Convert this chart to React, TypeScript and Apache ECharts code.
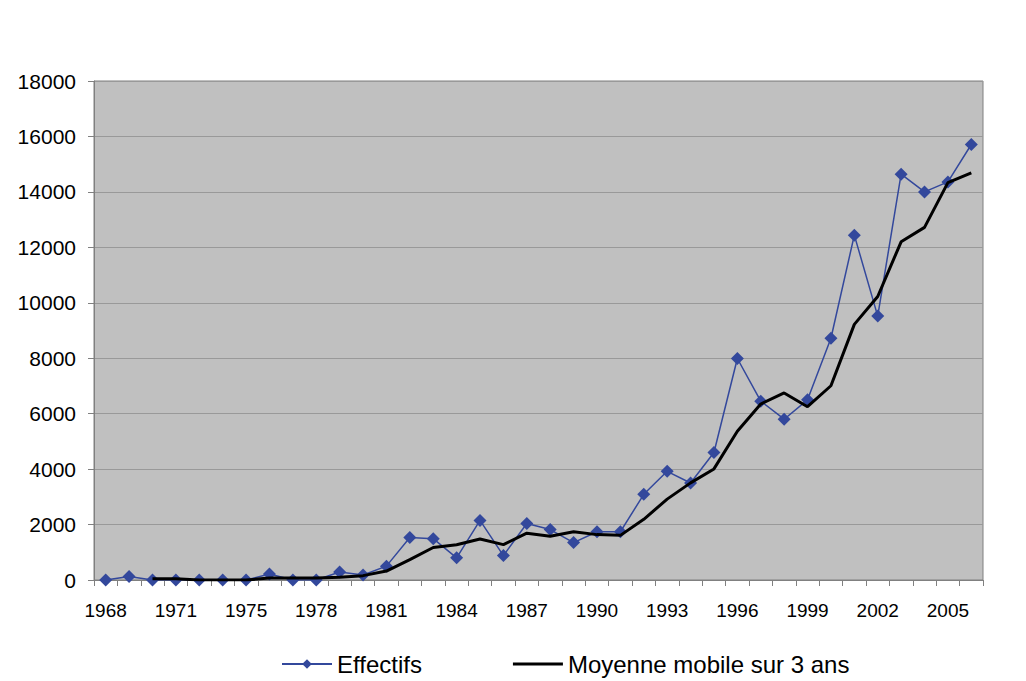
import React, { useEffect, useRef } from "react";
import * as echarts from "echarts";

const years: string[] = [
  "1968", "1969", "1970", "1971", "1972", "1973", "1975", "1976", "1977", "1978",
  "1979", "1980", "1981", "1982", "1983", "1984", "1985", "1986", "1987", "1988",
  "1989", "1990", "1991", "1992", "1993", "1994", "1995", "1996", "1997", "1998",
  "1999", "2000", "2001", "2002", "2003", "2004", "2005", "2006",
];

const effectifs: number[] = [
  0, 130, 0, 0, 0, 0, 0, 220, 0, 0,
  290, 180, 500, 1530, 1490, 800, 2150, 880, 2040, 1820,
  1350, 1740, 1740, 3090, 3920, 3500, 4600, 7990, 6450, 5800,
  6500, 8720, 12440, 9520, 14640, 14000, 14360, 15710,
];

const moyenneMobile: (number | null)[] = [
  null, null, 43, 43, 0, 0, 0, 73, 73, 73,
  97, 157, 323, 737, 1173, 1273, 1480, 1277, 1690, 1580,
  1737, 1637, 1610, 2190, 2917, 3503, 4007, 5363, 6347, 6747,
  6250, 7007, 9220, 10227, 12200, 12720, 14333, 14690,
];

const yTicks = { min: 0, max: 18000, interval: 2000 };

export default function App() {
  const ref = useRef<HTMLDivElement>(null);
  useEffect(() => {
    if (!ref.current) return;
    const chart = echarts.init(ref.current, null, { renderer: "svg" });
    const font = "Liberation Sans, Arial, sans-serif";
    chart.setOption({
      animation: false,
      backgroundColor: "#ffffff",
      textStyle: { fontFamily: font },
      grid: {
        left: 94,
        right: 43,
        top: 81,
        bottom: 101,
        show: true,
        backgroundColor: "#C0C0C0",
        borderColor: "#808080",
        borderWidth: 1,
      },
      legend: {
        left: 281,
        top: 652,
        padding: 0,
        itemWidth: 50,
        itemHeight: 12,
        itemGap: 91,
        textStyle: { fontSize: 24, color: "#000", fontFamily: font },
        data: [
          { name: "Effectifs" },
          {
            name: "Moyenne mobile sur 3 ans",
            icon: "path://M0,0 L50,0 L50,3 L0,3 Z",
            itemStyle: { color: "#000000" },
          },
        ],
      },
      xAxis: {
        type: "category",
        data: years,
        boundaryGap: true,
        axisLine: { show: true, lineStyle: { color: "#808080", width: 1 } },
        axisTick: {
          show: true,
          interval: 0,
          length: 6,
          lineStyle: { color: "#808080" },
        },
        axisLabel: {
          interval: 2,
          fontSize: 19,
          color: "#000",
          margin: 21,
          fontFamily: font,
        },
        splitLine: { show: false },
      },
      yAxis: {
        type: "value",
        min: yTicks.min,
        max: yTicks.max,
        interval: yTicks.interval,
        axisLine: { show: true, lineStyle: { color: "#808080", width: 1 } },
        axisTick: { show: true, length: 6, lineStyle: { color: "#808080" } },
        axisLabel: {
          fontSize: 21,
          color: "#000",
          margin: 18,
          fontFamily: font,
          formatter: (v: number) => String(v),
        },
        splitLine: { show: true, lineStyle: { color: "#999999", width: 1 } },
      },
      series: [
        {
          name: "Effectifs",
          type: "line",
          data: effectifs,
          symbol: "diamond",
          symbolSize: 13,
          showSymbol: true,
          itemStyle: { color: "#33489C" },
          lineStyle: { color: "#33489C", width: 1.5 },
          z: 2,
        },
        {
          name: "Moyenne mobile sur 3 ans",
          type: "line",
          data: moyenneMobile,
          symbol: "none",
          connectNulls: false,
          itemStyle: { color: "#000000" },
          lineStyle: { color: "#000000", width: 3 },
          z: 3,
        },
      ],
    });
    return () => chart.dispose();
  }, []);
  return (
    <div
      ref={ref}
      style={{ position: "fixed", left: 0, top: 0, width: 1026, height: 681 }}
    />
  );
}
